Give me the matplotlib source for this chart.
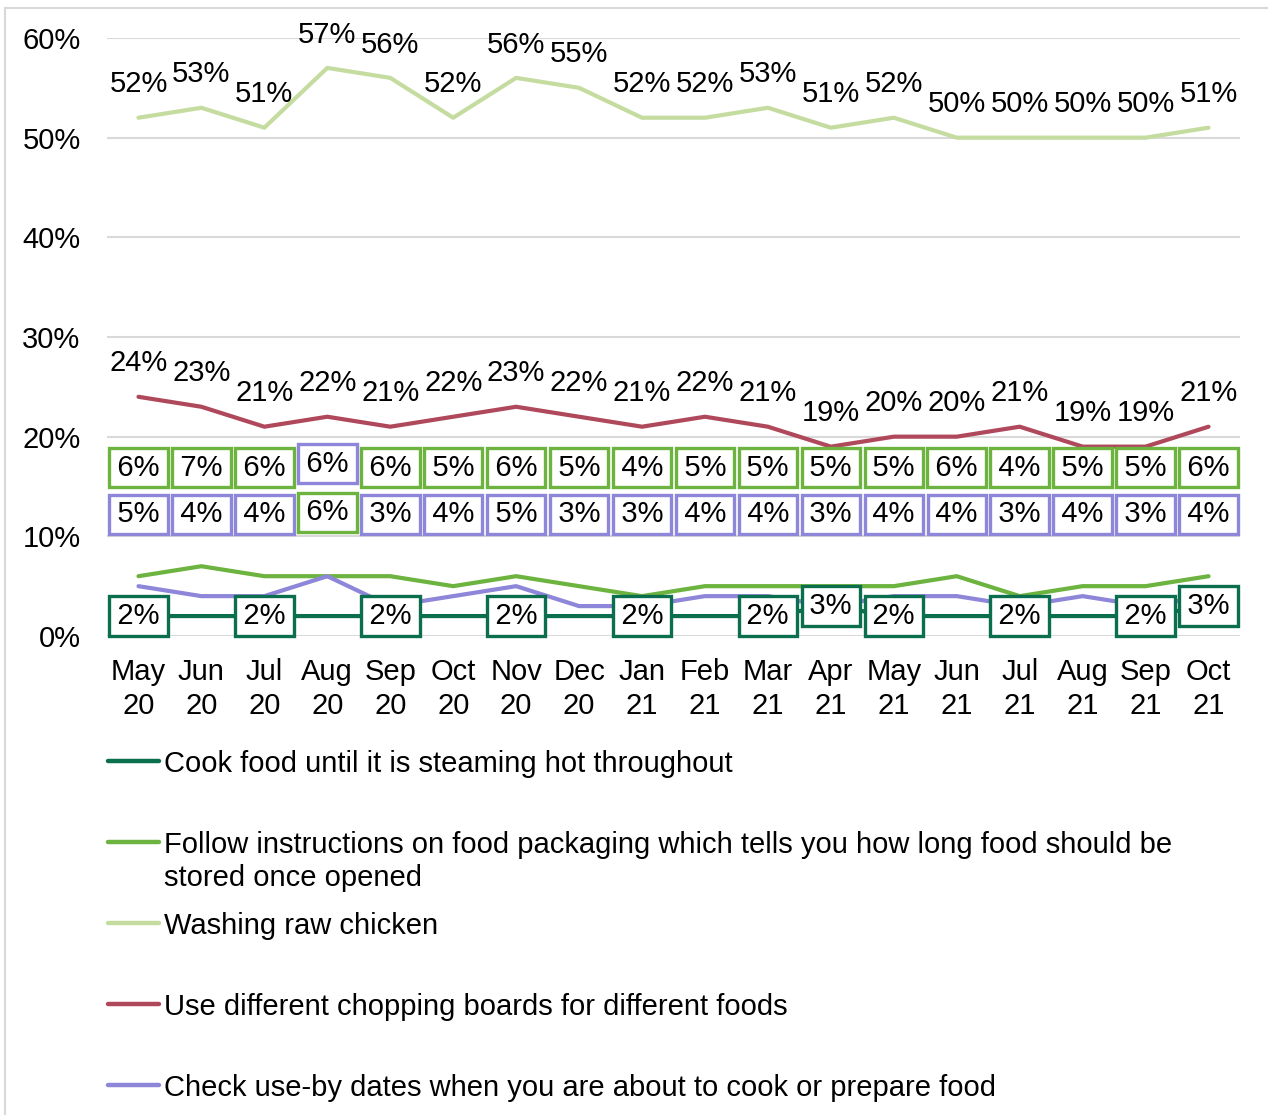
import matplotlib
matplotlib.use("Agg")
import matplotlib.pyplot as plt
from matplotlib.lines import Line2D
from matplotlib.patches import Rectangle
from matplotlib.ticker import FuncFormatter

plt.rcParams["font.family"] = ["Liberation Sans", "DejaVu Sans"]
plt.rcParams["font.size"] = 21

MONTHS = ["May\n20", "Jun\n20", "Jul\n20", "Aug\n20", "Sep\n20", "Oct\n20",
          "Nov\n20", "Dec\n20", "Jan\n21", "Feb\n21", "Mar\n21", "Apr\n21",
          "May\n21", "Jun\n21", "Jul\n21", "Aug\n21", "Sep\n21", "Oct\n21"]

cook = [2, 2, 2, 2, 2, 2, 2, 2, 2, 2, 2, 3, 2, 2, 2, 2, 2, 3]
follow = [6, 7, 6, 6, 6, 5, 6, 5, 4, 5, 5, 5, 5, 6, 4, 5, 5, 6]
washing = [52, 53, 51, 57, 56, 52, 56, 55, 52, 52, 53, 51, 52, 50, 50, 50, 50, 51]
chopping = [24, 23, 21, 22, 21, 22, 23, 22, 21, 22, 21, 19, 20, 20, 21, 19, 19, 21]
useby = [5, 4, 4, 6, 3, 4, 5, 3, 3, 4, 4, 3, 4, 4, 3, 4, 3, 4]

# only these points of the "cook" series carry a value label
cook_labelled = [0, 2, 4, 6, 8, 10, 11, 12, 14, 16, 17]

SERIES = [
    ("Cook food until it is steaming hot throughout", cook, "#0B6E4F"),
    ("Follow instructions on food packaging which tells you how long food should be\nstored once opened",
     follow, "#6DB33F"),
    ("Washing raw chicken", washing, "#C5DCA0"),
    ("Use different chopping boards for different foods", chopping, "#B0485C"),
    ("Check use-by dates when you are about to cook or prepare food", useby, "#8E86D9"),
]

W, H = 1268, 1115


def fx(px):
    return px / W


def fy(py):
    return 1 - py / H


fig = plt.figure(figsize=(W / 100, H / 100), dpi=100)
ax = fig.add_axes([fx(107), fy(636), fx(1240) - fx(107), fy(38) - fy(636)])

# light outer frame (only left and top edges fall inside the canvas)
fig.add_artist(Rectangle((fx(5), -0.2), 1.2, fy(8) + 0.2, transform=fig.transFigure,
                         fill=False, edgecolor="#D9D9D9", linewidth=1.5))

x = list(range(len(MONTHS)))
for name, vals, color in SERIES:
    ax.plot(x, vals, color=color, linewidth=3, solid_capstyle="round",
            solid_joinstyle="round", zorder=3)

ax.set_xlim(-0.5, len(MONTHS) - 0.5)
ax.set_ylim(0, 60)
ax.set_yticks(range(0, 61, 10))
ax.yaxis.set_major_formatter(FuncFormatter(lambda v, p: f"{v:.0f}%"))
ax.set_xticks(x)
ax.set_xticklabels(MONTHS, linespacing=1.28)
ax.tick_params(axis="both", length=0, labelsize=21)
ax.tick_params(axis="x", pad=16)
ax.tick_params(axis="y", pad=19)
ax.grid(axis="y", color="#D9D9D9", linewidth=1.5)
ax.set_axisbelow(True)
for s in ax.spines.values():
    s.set_visible(False)


def boxed(xi, y, val, color):
    # hair spaces widen the box a little without making it taller
    ax.text(xi, y, f"\u200a{val}%\u200a", ha="center", va="center", fontsize=21,
            zorder=5, bbox=dict(boxstyle="square,pad=0.2", facecolor="white",
                                edgecolor=color, linewidth=2.4))


# value labels above the two upper lines
for vals in (washing, chopping):
    for xi, v in enumerate(vals):
        ax.annotate(f"{v}%", (xi, v), xytext=(0, 24), textcoords="offset points",
                    ha="center", va="center", fontsize=21, zorder=5)

# boxed labels for the two small series, stacked in two rows
GREEN_ROW, PURPLE_ROW = 16.9, 12.2
for xi in x:
    if follow[xi] == useby[xi] == 6:
        gy, py = PURPLE_ROW + 0.2, GREEN_ROW + 0.4
    else:
        gy, py = GREEN_ROW, PURPLE_ROW
    boxed(xi, gy, follow[xi], SERIES[1][2])
    boxed(xi, py, useby[xi], SERIES[4][2])

for xi in cook_labelled:
    boxed(xi, cook[xi], cook[xi], SERIES[0][2])

# legend drawn as a single column below the axes
legend_y = [761, 842, 923, 1004, 1085]
for (name, vals, color), ly in zip(SERIES, legend_y):
    fig.add_artist(Line2D([fx(108), fx(159)], [fy(ly), fy(ly)], transform=fig.transFigure,
                          color=color, linewidth=3.2, solid_capstyle="round"))
    for k, line in enumerate(name.split("\n")):
        fig.text(fx(164), fy(ly + 11 + 33 * k), line, ha="left", va="baseline",
                 fontsize=21)

fig.savefig("out.png", dpi=100, facecolor="white")
